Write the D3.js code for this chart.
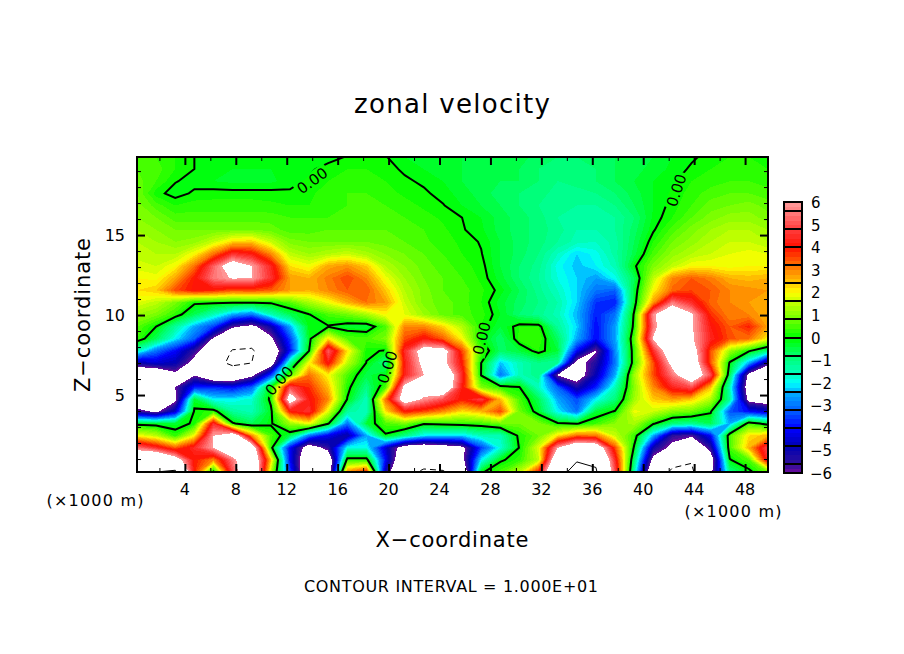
<!DOCTYPE html>
<html>
<head>
<meta charset="utf-8">
<style>
  html, body { margin: 0; padding: 0; background: #fff; }
  svg { display: block; }
  text { font-family: "DejaVu Sans", sans-serif; fill: #000; }
</style>
<script src="https://cdn.jsdelivr.net/npm/d3@7"></script>
</head>
<body>
<svg id="chart" width="904" height="654"></svg>
<script>
// plot extent in km, grid is xCount x zRows.length
const xDomain = [0.24, 49.8];
const zDomain = [0.19, 19.88];
const xCount = 34;

// zonal velocity, top row first
const zonalU = [
  [.5,.4,.2,0,-.1,-.2,-.2,-.2,-.2,-.15,-.1,.02,.05,.02,-.2,-.3,-.4,-.4,-.5,-.5,-.5,-.7,-.8,-.8,-.7,-.6,-.5,-.4,-.2,-.05,.1,.2,.2,.1],
  [.6,.5,.2,0,-.1,-.2,-.2,-.2,-.15,-.05,.1,.2,.2,.1,-.05,-.2,-.3,-.4,-.5,-.6,-.6,-.8,-.9,-.9,-.8,-.6,-.5,-.3,-.15,.05,.2,.3,.3,.2],
  [.7,.4,.02,-.1,-.2,-.25,-.25,-.25,-.1,.05,.2,.3,.3,.2,.05,-.05,-.2,-.4,-.6,-.6,-.6,-.8,-1,-.9,-.8,-.6,-.4,-.2,-.05,.2,.3,.4,.4,.3],
  [.8,.1,-.12,.05,.1,.1,.1,.1,.05,.15,.3,.4,.4,.3,.15,.05,-.1,-.3,-.5,-.7,-.8,-.9,-1.1,-1.1,-1,-.8,-.5,-.2,.05,.3,.5,.6,.6,.5],
  [.9,.5,.2,.3,.3,.3,.3,.25,.2,.2,.35,.4,.4,.4,.3,.15,.02,-.2,-.4,-.6,-.8,-1,-1.1,-1.2,-1.2,-1,-.6,-.2,.1,.4,.7,.8,.9,.7],
  [1,.8,.5,.5,.5,.5,.5,.5,.4,.4,.4,.5,.5,.5,.4,.3,.15,0,-.2,-.5,-.7,-.9,-1.2,-1.3,-1.3,-1.2,-.8,-.15,.2,.6,.9,1.1,1.1,.9],
  [1.2,1,.8,.8,.8,.8,.8,.7,.5,.5,.6,.6,.6,.6,.6,.4,.25,.03,-.15,-.5,-.7,-.9,-1.1,-1.4,-1.4,-1.2,-.7,-.05,.5,.9,1.2,1.4,1.4,1.2],
  [1.4,1.2,1,1.1,1.6,2.3,2.4,1.6,.9,.8,.8,.8,.8,.7,.6,.45,.3,.15,-.03,-.4,-.7,-.9,-1.2,-1.5,-1.6,-1.3,-.6,.2,.8,1.1,1.4,1.6,1.6,1.4],
  [1.5,1.4,1.4,2,3.2,4.6,4.2,3,1.5,1.2,1.4,1.6,1.3,1,.8,.6,.4,.2,.02,-.4,-.7,-1,-1.6,-2.2,-1.9,-1.3,-.5,.5,1.1,1.4,1.6,1.8,1.9,1.8],
  [1.7,1.6,2,3.2,5.2,7,6,4.4,2.2,1.9,2.7,2.9,2.4,1.4,1,.7,.5,.3,.1,-.4,-.8,-1.1,-1.9,-2.3,-2,-1.5,-.1,.9,1.5,2,2,1.9,2,2],
  [2,1.9,2.7,4,5.5,6.1,6,4.6,2.8,2.6,3.1,3.6,3,1.9,1.2,.8,.6,.4,.15,-.3,-.8,-1.2,-1.8,-2.2,-2.6,-1.9,-.6,1.5,3,3.4,3.1,2.6,2.5,2.6],
  [2.2,2.4,3.5,4.1,3.9,3.5,3.6,3.4,2.8,2.6,3,3.4,3.4,2.4,1.4,.9,.6,.5,.25,-.1,-.6,-1.1,-1.6,-2.2,-3,-3.2,-.4,2,3.3,3.6,3.4,3,2.9,2.8],
  [1.8,1.5,.9,.1,.1,.1,.1,.1,.6,1.3,1.9,2.6,3.2,2.8,1.6,.9,.7,.5,.2,-.3,-.7,-1,-1.4,-2.2,-3.6,-3.8,-.3,2.8,5.5,4.5,3.3,3,2.8,2.6],
  [1.2,.9,.3,-.6,-1.5,-2.5,-3,-1.5,-.6,-.02,.5,.8,1.3,2,1.8,1.2,.7,.5,.3,-.2,-.8,-1.1,-1.5,-2.4,-3.8,-3,.1,5.8,7.5,6.2,3.8,3,3,2.6],
  [.6,0,-1.2,-2.5,-3.5,-5.8,-6.4,-5,-2.5,-.1,-.05,-.3,-.4,.5,3,3,2.3,1.4,.2,-.4,.2,.2,-1.2,-2.2,-4,-2.6,.2,5.5,8,6.2,4.2,3.4,3.9,2.7],
  [.4,-.6,-2,-3.2,-6.2,-8,-8.5,-6.3,-3.5,-.2,2.2,.6,.5,.9,3.5,4.2,3.4,2,0,-.8,.3,.4,-.7,-2.5,-4,-2.6,.6,6.1,8,6.2,4.4,3.5,3.2,2],
  [-1.5,-3,-4,-5.5,-7.5,-10.2,-10.4,-7.5,-4,0,5.2,2.2,.1,-.05,4.5,6.8,6.8,3.6,.5,-.7,-.4,.2,-.4,-4,-6.1,-2.8,.4,4.5,7.5,7,3.5,1.2,.1,-1],
  [-5,-4.5,-4.8,-6.5,-9,-10.6,-10,-7,-1.2,2,4.2,1.5,-.02,-1,4.2,6.5,6.5,4,0,-2.3,-1.5,-1,-1.2,-6.6,-5.3,-3,.4,3.5,6.5,7.5,3.5,-.1,-2.5,-5.5],
  [-8,-8,-6.4,-6.1,-8,-8,-6.4,-3.5,.6,3.2,2,.5,-.5,-.1,4.3,6,8,4.5,-.03,-3,-1.5,-1,-6.1,-7,-4.8,-2.5,1.2,3.5,5.5,7.5,5,-.6,-6.5,-8],
  [-8,-8,-6,-3.8,-3.7,-4,-3.2,.1,5,3.8,2.5,.2,-1,.5,6.5,6.8,8,4.2,.9,.3,.02,-1.6,-3.2,-5.2,-3.8,-1.5,1,3,4.4,5,2.5,-1.5,-7,-8],
  [-7.5,-7.6,-6.4,-.3,-2,-2,-1.7,.2,7,4.2,3,-.05,-1.6,3.2,7,5.8,5,4,4.8,2.5,.5,-.6,-2.5,-3.4,-2,-.9,1.2,2.4,2.8,2.4,1.4,-1.2,-6.5,-7],
  [-5.5,-6.3,-4.5,.1,.3,-1.2,-1.5,-.2,4,4.6,1.8,-1.2,-1.6,2.2,4,3.6,3,2.2,2.6,3.6,.8,-.3,-2,-3,-.4,.05,1.9,1.6,1,.8,.1,-3.3,-4,-4.5],
  [-.2,-.3,-.3,.1,4.5,.1,-.6,-.1,1.2,2,.1,-3,-.4,.5,.9,.1,.2,.3,.4,.8,.8,.9,.1,-.05,.4,1,1.3,.1,-.9,-1.1,-.6,-2.5,.4,-.3],
  [2,1.5,.3,2,6,7.5,3,.5,-.5,-3,-4.2,-5,-2.5,-.1,-1,-2,-2.2,-2.2,-1.5,-1.5,.2,.8,2.2,3.3,3.2,1.6,.4,-2.5,-5.5,-5.8,-4,.5,2.2,2.6],
  [5.5,4.5,3.4,4.5,6,8,7.5,.3,-4,-7,-5.5,-1.8,-1.8,-4.5,-7,-7.5,-7,-6.4,-3.5,-1.8,.05,1.8,6,8,7.5,3.6,-.1,-5,-6.4,-8,-5.4,.5,2.6,5],
  [8,9,7,4,3,5.5,8,2.4,-4,-8,-7.5,.3,.3,-4,-8,-8.5,-8,-6.5,-2,-.1,.3,1.5,8,9.8,9.5,4.5,-.8,-6.5,-9,-9.8,-7,-.05,.6,4.5],
  [8,10,10.5,4,-.1,5,8.6,1.5,-3.5,-8,-7.5,3,4,-5,-9,-10.5,-10.3,-8,-.1,.5,1.5,4,9,11,10.3,5,-1.4,-8,-10.5,-10.5,-6.5,-1,-.2,.8]
];

// colour ramp
const colorLevels = [-6, -5.6, -4.8, -4, -3.2, -2.4, -2, -1.6, -.8, 0, .8, 1.6, 2, 2.4, 3.2, 4, 4.8, 5.6, 6];
const colorValues = ["#700a9c", "#30109a", "#0000b4", "#0000ff", "#0060ff", "#00b0ff", "#00ffff", "#00ffc0", "#00ff70", "#00ff00", "#70ff00", "#c8ff00", "#ffff00", "#ffc800", "#ff7000", "#ff1000", "#ff3c3c", "#ff8080", "#ff9c9c"];
const colorStep = 0.2;
const colorbarEdges = [-6, -5.6, -4.8, -4, -3.2, -2.4, -1.6, -.8, 0, .8, 1.6, 2.4, 3.2, 4, 4.8, 5.6, 6];
const colorbarLabels = [-6, -5, -4, -3, -2, -1, 0, 1, 2, 3, 4, 5, 6];

const xMajorTicks = [4, 8, 12, 16, 20, 24, 28, 32, 36, 40, 44, 48];
const xMinorTicks = [2, 6, 10, 14, 18, 22, 26, 30, 34, 38, 42, 46];
const zMajorTicks = [5, 10, 15];
const zMinorTicks = [1, 2, 3, 4, 6, 7, 8, 9, 11, 12, 13, 14, 16, 17, 18, 19];

// 0.00 labels along the thick contour: x, z, angle
const contourLabels = [
  [14, 18.4, -36],
  [11.4, 5.9, -48],
  [19.9, 6.75, -72],
  [27.3, 8.55, -76],
  [42.6, 17.8, -72]
];

const plot = { left: 137, right: 768, top: 157, bottom: 472 };
const bar = { left: 784, right: 802, top: 202, bottom: 473 };

const x = d3.scaleLinear().domain(xDomain).range([plot.left, plot.right]);
const z = d3.scaleLinear().domain(zDomain).range([plot.bottom, plot.top]);
const color = d3.scaleLinear().domain(colorLevels).range(colorValues);
const barY = d3.scaleLinear().domain([-6, 6]).range([bar.bottom, bar.top]);

const svg = d3.select("#chart");
const values = zonalU.flat();
const zCount = zonalU.length;
if (values.length !== xCount * zCount) throw new Error("bad grid");

// grid index -> pixels, d3.contours puts sample i at i + 0.5
const gridX = d3.scaleLinear().domain([0.5, xCount - 0.5]).range([plot.left, plot.right]);
const gridY = d3.scaleLinear().domain([0.5, zCount - 0.5]).range([plot.top, plot.bottom]);
const path = d3.geoPath(d3.geoTransform({
  point(px, py) { this.stream.point(gridX(px), gridY(py)); }
}));
const contour = d3.contours().size([xCount, zCount]);

svg.append("clipPath").attr("id", "plotClip").append("rect")
  .attr("x", plot.left).attr("y", plot.top)
  .attr("width", plot.right - plot.left).attr("height", plot.bottom - plot.top);

const bands = d3.range(-30, 30).map(i => i * colorStep);

const fills = svg.append("g").attr("clip-path", "url(#plotClip)").attr("shape-rendering", "crispEdges");
fills.append("rect")
  .attr("x", plot.left).attr("y", plot.top)
  .attr("width", plot.right - plot.left).attr("height", plot.bottom - plot.top)
  .attr("fill", "#fff");
fills.selectAll("path.band")
  .data(bands.concat([6]))
  .join("path")
  .attr("class", "band")
  .attr("d", t => path(contour.contour(values, t)))
  .attr("fill", t => t >= 6 ? "#fff" : color(t + colorStep / 2));

// gaps in the thick line where the labels sit
const mask = svg.append("mask").attr("id", "labelGaps")
  .attr("maskUnits", "userSpaceOnUse")
  .attr("x", 0).attr("y", 0).attr("width", 904).attr("height", 654);
mask.append("rect").attr("width", 904).attr("height", 654).attr("fill", "#fff");
mask.selectAll("rect.gap").data(contourLabels).join("rect")
  .attr("class", "gap")
  .attr("x", -19).attr("y", -8).attr("width", 38).attr("height", 16)
  .attr("fill", "#000")
  .attr("transform", d => `translate(${x(d[0])},${z(d[1])}) rotate(${d[2]})`);

const lines = svg.append("g").attr("clip-path", "url(#plotClip)").attr("fill", "none").attr("stroke", "#000");
lines.append("g").attr("mask", "url(#labelGaps)").append("path")
  .attr("d", path(contour.contour(values, 0)))
  .attr("stroke-width", 2);
lines.append("path")
  .attr("d", path(contour.contour(values, 10)))
  .attr("stroke-width", 1);
lines.append("path")
  .attr("d", path(contour.contour(values, -10)))
  .attr("stroke-width", 1)
  .attr("stroke-dasharray", "6 4");

svg.append("g").selectAll("text").data(contourLabels).join("text")
  .attr("transform", d => `translate(${x(d[0])},${z(d[1])}) rotate(${d[2]})`)
  .attr("text-anchor", "middle")
  .attr("dy", "0.36em")
  .attr("font-size", 15)
  .text("0.00");

// frame and ticks, all pointing inward
function ticks(axis, at, vals, size, width) {
  const g = svg.append("g").attr("transform", at)
    .call(axis.tickValues(vals).tickSize(-size).tickFormat(""));
  g.select(".domain").remove();
  g.selectAll("line").attr("stroke-width", width);
  return g;
}
ticks(d3.axisBottom(x), `translate(0,${plot.bottom})`, xMajorTicks, 8, 2);
ticks(d3.axisBottom(x), `translate(0,${plot.bottom})`, xMinorTicks, 4, 1);
ticks(d3.axisTop(x), `translate(0,${plot.top})`, xMajorTicks, 8, 2);
ticks(d3.axisTop(x), `translate(0,${plot.top})`, xMinorTicks, 4, 1);
ticks(d3.axisLeft(z), `translate(${plot.left},0)`, zMajorTicks, 8, 2);
ticks(d3.axisLeft(z), `translate(${plot.left},0)`, zMinorTicks, 4, 1);
ticks(d3.axisRight(z), `translate(${plot.right},0)`, zMajorTicks, 8, 2);
ticks(d3.axisRight(z), `translate(${plot.right},0)`, zMinorTicks, 4, 1);

svg.append("rect")
  .attr("x", plot.left).attr("y", plot.top)
  .attr("width", plot.right - plot.left).attr("height", plot.bottom - plot.top)
  .attr("fill", "none").attr("stroke", "#000").attr("stroke-width", 2);

svg.append("g").selectAll("text").data(xMajorTicks).join("text")
  .attr("x", d => x(d)).attr("y", 495)
  .attr("text-anchor", "middle").attr("font-size", 16)
  .text(d => d);
svg.append("g").selectAll("text").data(zMajorTicks).join("text")
  .attr("x", 125).attr("y", d => z(d) + 6)
  .attr("text-anchor", "end").attr("font-size", 16)
  .text(d => d);

// colour bar
const barG = svg.append("g").attr("shape-rendering", "crispEdges");
barG.selectAll("rect.shade").data(bands).join("rect")
  .attr("class", "shade")
  .attr("x", bar.left).attr("width", bar.right - bar.left)
  .attr("y", t => barY(t + colorStep))
  .attr("height", t => barY(t) - barY(t + colorStep) + 0.5)
  .attr("fill", t => color(t + colorStep / 2));
barG.selectAll("rect.box").data(d3.pairs(colorbarEdges)).join("rect")
  .attr("class", "box")
  .attr("x", bar.left).attr("width", bar.right - bar.left)
  .attr("y", d => barY(d[1]))
  .attr("height", d => barY(d[0]) - barY(d[1]))
  .attr("fill", "none").attr("stroke", "#000").attr("stroke-width", 2);
svg.append("g").selectAll("text").data(colorbarLabels).join("text")
  .attr("x", d => d < 0 ? 810 : 811).attr("y", d => barY(d) + 6)
  .attr("font-size", 15)
  .text(d => d < 0 ? "\u2212" + (-d) : d);

// titles
function label(txt, px, py, size, width, rotate) {
  const t = svg.append("text")
    .attr("text-anchor", "middle")
    .attr("font-size", size)
    .attr("textLength", width)
    .attr("lengthAdjust", "spacing")
    .text(txt);
  if (rotate) t.attr("transform", `translate(${px},${py}) rotate(${rotate})`);
  else t.attr("x", px).attr("y", py);
}
label("zonal velocity", 452, 113, 26, 196);
label("X\u2212coordinate", 452, 547, 21, 153);
label("Z\u2212coordinate", 90, 315, 21, 154, -90);
label("(\u00d71000 m)", 95, 506, 16, 97);
label("(\u00d71000 m)", 733, 517, 16, 97);
label("CONTOUR INTERVAL = 1.000E+01", 451, 592, 16, 294);
</script>
</body>
</html>
